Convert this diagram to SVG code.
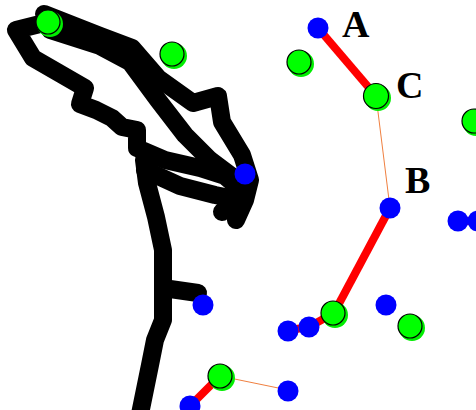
<svg xmlns="http://www.w3.org/2000/svg" width="476" height="410" viewBox="0 0 476 410">
<style>
.ink{fill:none;stroke:#000;stroke-width:18;stroke-linejoin:round;stroke-linecap:round}
.thick{stroke:#ff0000;stroke-width:8;stroke-linecap:butt}
.thin{stroke:#f08040;stroke-width:1}
.blue{fill:#0000ff}
.gback{fill:#00ee00}
.gfront{fill:#00ff00;stroke:#000;stroke-width:1.2}
.lbl{font-family:"Liberation Serif","Times New Roman",serif;font-weight:bold;font-size:38px;fill:#000}
</style>
<rect width="476" height="410" fill="#fff"/>
<g id="scribble">
<path class="ink" d="M44,14 L100,36 L132,48 L158,78 L193,103 L218,96 L222,122 L242,155 L250,180 L245,200 L236,220"/>
<path class="ink" d="M50,30 L100,46 L130,62 L158,100 L185,135 L210,160 L230,175 L244,190"/>
<path class="ink" d="M48,22 L16,30 L33,58 L85,88 L80,104 L96,110 L112,118 L122,127 L137,130 L137,148 L165,160 L200,168 L225,176 L244,192 L222,212"/>
<path class="ink" d="M144,160 L147,183 L156,217 L163,250 L163,320 L155,340 L150,365 L140,414"/>
<path class="ink" d="M163,288 L198,293"/>
<path class="ink" d="M145,170 L180,186 L215,195 L240,200"/>
</g>
<g id="connectors">
<line class="thick" x1="318" y1="28" x2="376" y2="96"/>
<line class="thick" x1="390" y1="208" x2="334" y2="313"/>
<polyline class="thick" fill="none" stroke-width="6" points="334,313 309,327 290,330"/>
<line class="thick" stroke-width="7" x1="220" y1="376" x2="190" y2="406"/>
<line class="thick" stroke-width="6" x1="458" y1="221" x2="478" y2="221"/>
<line class="thin" x1="376" y1="96" x2="390" y2="208"/>
<line class="thin" x1="220" y1="376" x2="288" y2="390"/>
</g>
<g id="g1"><circle class="gback" cx="50" cy="24" r="13"/><circle class="gfront" cx="48" cy="22" r="12"/></g>
<g id="g2"><circle class="gback" cx="174" cy="56" r="13"/><circle class="gfront" cx="172" cy="54" r="12"/></g>
<g id="g3"><circle class="gback" cx="301" cy="64" r="13"/><circle class="gfront" cx="299" cy="62" r="12"/></g>
<g id="C"><circle class="gback" cx="378" cy="98" r="13"/><circle class="gfront" cx="376" cy="96" r="12.5"/></g>
<g id="g5"><circle class="gback" cx="476" cy="123" r="13"/><circle class="gfront" cx="474" cy="121" r="12"/></g>
<g id="g6"><circle class="gback" cx="335" cy="315" r="13"/><circle class="gfront" cx="333" cy="313" r="12"/></g>
<g id="g7"><circle class="gback" cx="412" cy="328" r="13"/><circle class="gfront" cx="410" cy="326" r="12"/></g>
<g id="g8"><circle class="gback" cx="222" cy="378" r="13"/><circle class="gfront" cx="220" cy="376" r="12"/></g>
<g id="A"><circle class="blue" cx="318" cy="28" r="10.5"/></g>
<g id="b2"><circle class="blue" cx="245" cy="174" r="10.5"/></g>
<g id="B"><circle class="blue" cx="390" cy="208" r="10.5"/></g>
<g id="b4"><circle class="blue" cx="458" cy="221" r="10.5"/></g>
<g id="b5"><circle class="blue" cx="478" cy="221" r="10.5"/></g>
<g id="b6"><circle class="blue" cx="203" cy="305" r="10.5"/></g>
<g id="b7"><circle class="blue" cx="288" cy="331" r="10.5"/></g>
<g id="b8"><circle class="blue" cx="309" cy="327" r="10.5"/></g>
<g id="b9"><circle class="blue" cx="386" cy="305" r="10.5"/></g>
<g id="b10"><circle class="blue" cx="288" cy="391" r="10.5"/></g>
<g id="b11"><circle class="blue" cx="190" cy="406" r="10.5"/></g>
<g id="labels">
<text class="lbl" x="342" y="37">A</text>
<text class="lbl" x="396" y="98">C</text>
<text class="lbl" x="405" y="193">B</text>
</g>
</svg>
